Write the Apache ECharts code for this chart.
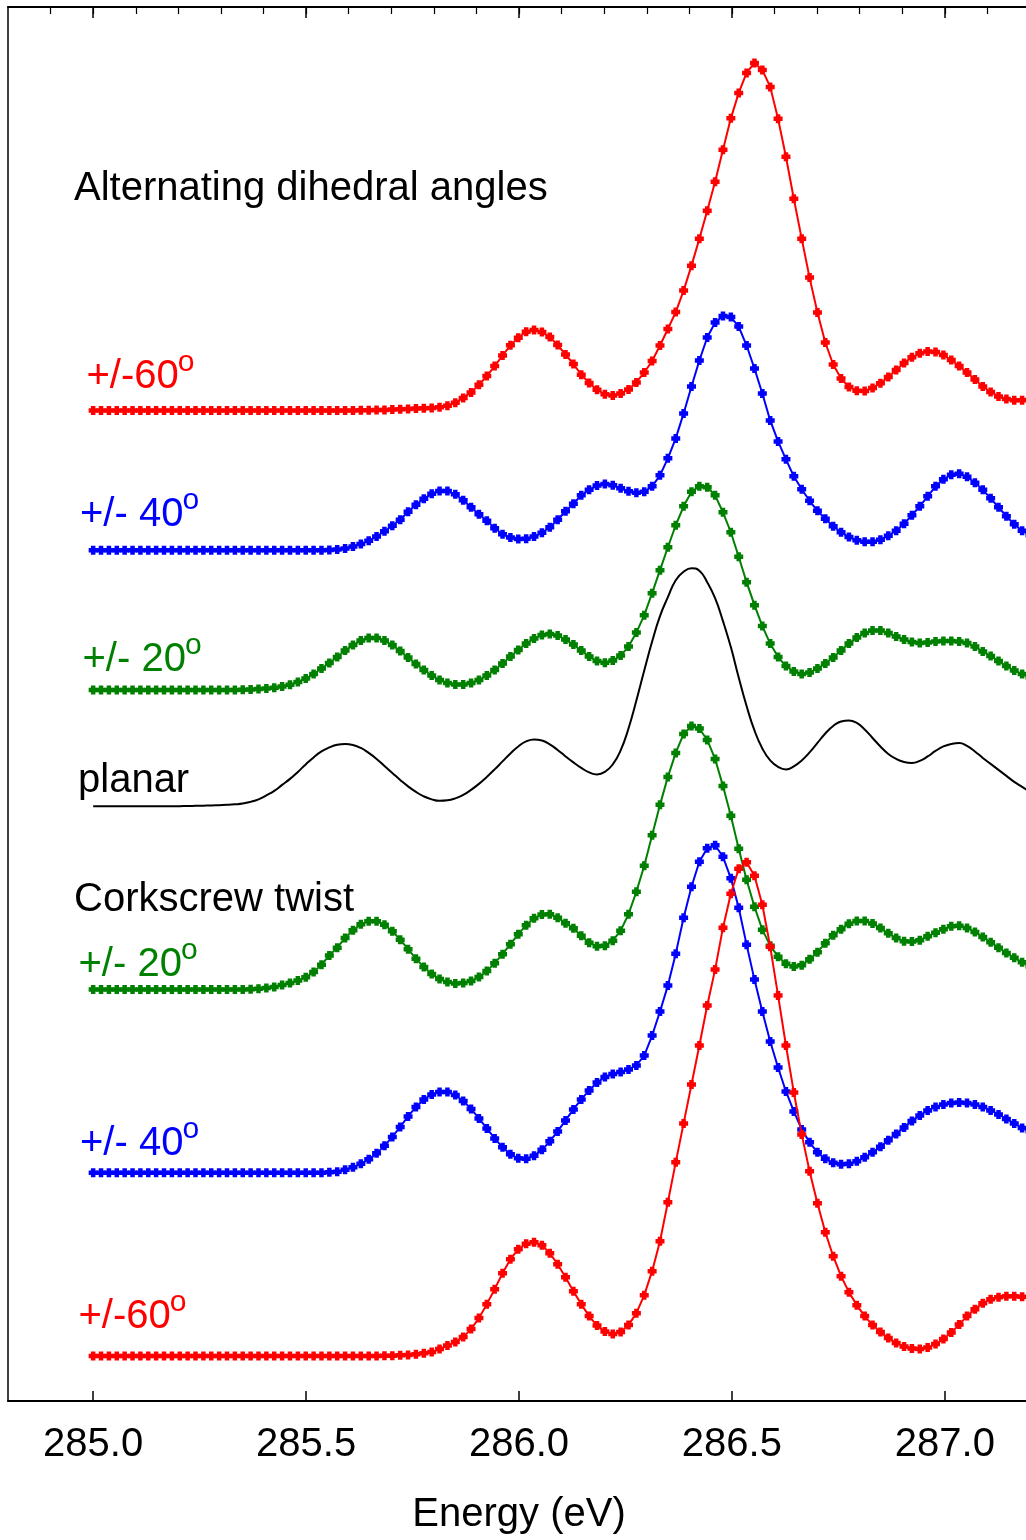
<!DOCTYPE html>
<html>
<head>
<meta charset="utf-8">
<title>C 1s spectra, dihedral angles</title>
<script src="https://cdn.jsdelivr.net/npm/echarts@6/dist/echarts.min.js"></script>
<style>
    html, body { margin: 0; padding: 0; background: #fff; overflow: hidden; }
    #chart { width: 1030px; height: 1540px; }
</style>
</head>
<body>
<div id="chart"></div>
<script>
    // energy grid of the calculated spectra: 120 points, 285.0 .. 287.2 eV
    var eStart = 285.0, eEnd = 287.2, nPts = 120;
    var energy = [];
    for (var i = 0; i < nPts; i++) {
        energy.push(eStart + i * (eEnd - eStart) / (nPts - 1));
    }

    var tickValues = [285.0, 285.5, 286.0, 286.5, 287.0];
    var minorTickValues = [284.9, 285.0, 285.1, 285.2, 285.3, 285.4, 285.5, 285.6, 285.7, 285.8, 285.9,
        286.0, 286.1, 286.2, 286.3, 286.4, 286.5, 286.6, 286.7, 286.8, 286.9, 287.0, 287.1];

    // intensities (arb. units) above each curve's own baseline
    var altRed60 = [
        0, 0, 0, 0, 0, 0, 0, 0, 0, 0,
        0, 0, 0, 0, 0, 0, 0, 0, 0, 0,
        0, 0, 0, 0, 0, 0, 0, 0, 0, 0,
        0, 0, 0, 0, 0.1, 0.2, 0.3, 0.5, 0.8, 1.2,
        1.5, 1.8, 2.1, 2.5, 3.2, 4.7, 7.7, 12.5, 18, 25.7,
        34.4, 44.4, 55, 65.2, 72.8, 78.8, 80.6, 78.5, 73.5, 65.4,
        56, 46.5, 35.8, 27.5, 20.6, 16.3, 15, 17, 21, 28,
        38, 49.5, 65, 81.5, 98.5, 120, 145, 172, 200, 229,
        261, 292.5, 318, 338, 348, 341, 324, 292, 254, 212,
        172, 133, 98, 68, 46, 32, 23.5, 19.8, 19.5, 22.5,
        27.2, 33.5, 40.5, 47.5, 53.2, 57.2, 59, 58.5, 55.5, 50.5,
        44.5, 38, 31, 24, 18.5, 14, 11.4, 10.2, 10.3, 11
    ];
    var altBlue40 = [
        0, 0, 0, 0, 0, 0, 0, 0, 0, 0,
        0, 0, 0, 0, 0, 0, 0, 0, 0, 0,
        0, 0, 0, 0, 0, 0, 0, 0, 0, 0,
        0.2, 0.6, 1.8, 3.7, 6.2, 9.5, 13.7, 19, 24.5, 30.5,
        38.5, 45.5, 51.5, 56.5, 59.2, 59.2, 56, 50, 43, 36,
        29.5, 22, 16, 12.7, 11.3, 11.5, 13.7, 17.5, 23, 30.5,
        39, 46.5, 55, 60.5, 64.7, 66.2, 65, 62, 59, 57.5,
        58.5, 64, 75, 92, 112, 137, 164, 190, 213, 228,
        234.5, 233.5, 224, 205, 182, 157, 130, 109, 91, 74,
        61, 49.5, 39.5, 31.5, 24, 18, 13.2, 10, 8.5, 8.5,
        10.5, 14.5, 19.5, 26.5, 35, 44, 54, 64, 71, 75.5,
        76.5, 73.5, 67.5, 60.5, 52, 43, 34, 26, 19.5, 15
    ];
    var altGreen20 = [
        0, 0, 0, 0, 0, 0, 0, 0, 0, 0,
        0, 0, 0, 0, 0, 0, 0, 0, 0, 0.2,
        0.5, 0.9, 1.4, 2.2, 3.5, 5.2, 8, 11.5, 16, 21.5,
        27, 33, 39.5, 45, 49.5, 52, 52, 49.5, 45, 39,
        32.5, 26, 20, 14.5, 10, 7, 5.5, 5.5, 7, 10,
        14.5, 20, 26.5, 33.5, 40, 46.5, 51.5, 55, 56, 54.5,
        50.5, 45.5, 39.5, 33.5, 29, 27.2, 29.5, 34.5, 43.5, 57.5,
        75, 97, 120, 143, 165, 184, 198.5, 204, 203, 195,
        178, 158, 133.5, 108, 85, 64, 46.5, 33, 24, 18.5,
        16, 17.5, 21.5, 26.5, 32.5, 39.5, 46.5, 52.5, 57, 59.5,
        59.5, 57, 53.5, 50.5, 48, 47, 47.5, 48.5, 49, 49,
        48.5, 47, 43.5, 38.5, 34, 29, 24, 19.5, 16, 12.5
    ];
    var planar = [
        0, 0, 0, 0, 0, 0, 0, 0, 0, 0,
        0, 0.2, 0.3, 0.5, 0.7, 0.9, 1.2, 1.5, 2, 2.8,
        4.5, 7, 11, 15.5, 21.5, 27.5, 34.5, 42, 49, 55,
        59, 61.7, 62.5, 61.5, 58.5, 53.5, 47.5, 40.5, 33.5, 26.5,
        20, 14.5, 10, 7, 5.5, 6, 8, 11.5, 16.5, 22.5,
        29.5, 37, 45, 53, 60, 65, 67, 66, 62, 56.5,
        50, 44, 38.5, 34, 32, 34.5, 42, 56, 78, 106,
        136, 165, 190.5, 209.5, 226.5, 235, 238.5, 236, 224.5, 208.5,
        185.5, 159.5, 129, 100.5, 76, 58, 46, 39.5, 37, 40,
        46, 54, 63.5, 73, 80.5, 85, 86, 83.5, 77, 68.5,
        60, 52.5, 47.5, 44.5, 43.5, 45.5, 50, 55.5, 60, 62.5,
        63.5, 60.5, 55, 48.5, 42.5, 36.5, 30.5, 24.5, 19.5, 14.5
    ];
    var corkGreen20 = [
        0, 0, 0, 0, 0, 0, 0, 0, 0, 0,
        0, 0, 0, 0, 0, 0, 0, 0, 0, 0.2,
        0.4, 0.8, 1.5, 2.7, 4.5, 6.7, 9.2, 12.3, 17.5, 24.8,
        34.2, 42, 51.7, 59.5, 65.5, 68.5, 68.5, 65, 58.5, 50,
        40.5, 31, 22.5, 15.5, 10.5, 7.5, 6.2, 6.5, 8.5, 12.5,
        18.5, 26.5, 35.5, 45.5, 55.5, 64.5, 71.5, 75.2, 75.5, 72,
        66.5, 61.5, 54, 46.8, 43.5, 44, 49, 59, 75.5, 98,
        124, 154.5, 185, 213, 237, 256, 264, 261.5, 250, 231,
        204, 174, 141, 110, 83, 60, 44, 33, 26, 23.2,
        24.5, 30.5, 37.5, 46.5, 54.5, 60.5, 66, 68.7, 68.8, 66.3,
        61.6, 56.3, 51.6, 48.5, 48.2, 49.5, 53.4, 57, 60.5, 63.4,
        64, 61.8, 57.7, 52.6, 47.3, 42, 36.7, 31.8, 27.4, 23
    ];
    var corkBlue40 = [
        0, 0, 0, 0, 0, 0, 0, 0, 0, 0,
        0, 0, 0, 0, 0, 0, 0, 0, 0, 0,
        0, 0, 0, 0, 0, 0, 0, 0, 0, 0,
        0.5, 1.2, 3, 5.5, 9, 13.5, 19.5, 27, 36, 46,
        56.5, 66, 73.5, 78.5, 81, 81, 78, 72, 64, 54.5,
        44.5, 34.5, 25.5, 18.5, 14.5, 14, 17, 23, 31.5, 41.5,
        52.5, 63.5, 73.5, 82.5, 90.5, 96, 99, 101, 103.5, 107.5,
        117.5, 137.5, 161.5, 187.5, 219.5, 255.5, 286.5, 311.5, 325, 328,
        316.5, 295, 265.5, 228.5, 193.5, 161.5, 131.5, 105.5, 81.5, 61.5,
        43.5, 30.5, 20.5, 14, 10, 8.5, 9, 11.5, 15.5, 20.5,
        26, 32.5, 39, 45.5, 52, 57.5, 62.5, 66, 68.5, 70,
        70.5, 70, 68.5, 66, 62.5, 58.5, 54, 49.5, 45, 41.5
    ];
    var corkRed60 = [
        0, 0, 0, 0, 0, 0, 0, 0, 0, 0,
        0, 0, 0, 0, 0, 0, 0, 0, 0, 0,
        0, 0, 0, 0, 0, 0, 0, 0, 0, 0,
        0, 0, 0, 0, 0, 0, 0.1, 0.2, 0.4, 0.7,
        1, 1.7, 2.7, 4, 7, 10.5, 14, 19, 27, 38,
        52, 67, 83, 97, 107, 112.5, 114, 111, 103, 92,
        79, 65, 52, 40, 30.5, 24.5, 22, 24, 31, 43,
        61, 85, 115, 154, 194, 233, 272, 311, 351, 387,
        429, 463, 488, 494.5, 481, 452, 410, 361, 311, 264,
        222, 185, 153, 124, 100, 80, 64, 51, 40, 31,
        24, 18, 13, 9.5, 7.5, 7, 8.5, 12, 17, 23.5,
        31.5, 40, 47, 53, 57, 59, 60, 60, 59.5, 59
    ];

    // vertical offset of each curve in the stack
    var seriesNames = ['alt +/-60', 'alt +/-40', 'alt +/-20', 'planar', 'cork +/-20', 'cork +/-40', 'cork +/-60'];
    var seriesValues = [altRed60, altBlue40, altGreen20, planar, corkGreen20, corkBlue40, corkRed60];
    var seriesOffsets = [992, 852, 712, 595.5, 412, 228.5, 45];
    var seriesColors = ['#ff0000', '#0000ff', '#008000', '#000000', '#008000', '#0000ff', '#ff0000'];

    var FONT = '"Liberation Sans", Arial, Helvetica, sans-serif';
    var plusSymbol = 'path://M2.5,0H7.5V2.5H10V7.5H7.5V10H2.5V7.5H0V2.5H2.5Z';

    var series = seriesValues.map(function (vals, k) {
        var isPlanar = seriesNames[k] === 'planar';
        return {
            name: seriesNames[k],
            type: 'line',
            data: vals.map(function (v, j) { return [energy[j], v + seriesOffsets[k]]; }),
            smooth: isPlanar ? 0.5 : false,
            showSymbol: !isPlanar,
            symbol: plusSymbol,
            symbolSize: 9,
            itemStyle: { color: seriesColors[k] },
            lineStyle: { color: seriesColors[k], width: 2 },
            z: 2 + k
        };
    });

    // text labels next to the curves
    var labels = [
        { text: 'Alternating dihedral angles', sup: '', color: '#000000', x: 74, y: 188.5 },
        { text: '+/-60', sup: 'o', color: '#ff0000', x: 86.5, y: 376.5 },
        { text: '+/- 40', sup: 'o', color: '#0000ff', x: 80, y: 514.5 },
        { text: '+/- 20', sup: 'o', color: '#008000', x: 82.5, y: 659.5 },
        { text: 'planar', sup: '', color: '#000000', x: 78, y: 780.5 },
        { text: 'Corkscrew twist', sup: '', color: '#000000', x: 74, y: 899.5 },
        { text: '+/- 20', sup: 'o', color: '#008000', x: 78.5, y: 964.5 },
        { text: '+/- 40', sup: 'o', color: '#0000ff', x: 80, y: 1143.5 },
        { text: '+/-60', sup: 'o', color: '#ff0000', x: 78.5, y: 1316.5 }
    ];

    var ctx = document.createElement('canvas').getContext('2d');
    ctx.font = '40px ' + FONT;
    var graphics = [];
    labels.forEach(function (lb) {
        graphics.push({
            type: 'text', x: lb.x, y: lb.y, z: 100,
            style: { text: lb.text, fill: lb.color, fontSize: 40, fontFamily: FONT, align: 'left', verticalAlign: 'middle' }
        });
        if (lb.sup) {
            var w = ctx.measureText(lb.text).width;
            graphics.push({
                type: 'text', x: lb.x + w - 1, y: lb.y - 14, z: 100,
                style: { text: lb.sup, fill: lb.color, fontSize: 30, fontFamily: FONT, align: 'left', verticalAlign: 'middle' }
            });
        }
    });

    var chart = echarts.init(document.getElementById('chart'));
    chart.setOption({
        animation: false,
        backgroundColor: '#ffffff',
        grid: { left: 8, right: 0, top: 7, bottom: 137, containLabel: false },
        xAxis: [
            {
                type: 'value', position: 'bottom', min: 284.8, max: 287.2,
                name: 'Energy (eV)', nameLocation: 'middle', nameGap: 94,
                nameTextStyle: { fontSize: 40, fontFamily: FONT, color: '#000' },
                axisLine: { show: true, onZero: false, lineStyle: { color: '#000', width: 2 } },
                axisTick: { show: true, inside: true, length: 10, customValues: tickValues, lineStyle: { color: '#000', width: 1.5 } },
                axisLabel: {
                    customValues: tickValues, margin: 24, fontSize: 40, fontFamily: FONT, color: '#000',
                    formatter: function (v) { return v.toFixed(1); }
                },
                splitLine: { show: false }
            },
            {
                type: 'value', position: 'top', min: 284.8, max: 287.2,
                axisLine: { show: true, onZero: false, lineStyle: { color: '#000', width: 2 } },
                axisTick: { show: true, inside: true, length: 7, customValues: minorTickValues, lineStyle: { color: '#000', width: 1.2 } },
                axisLabel: { show: false },
                splitLine: { show: false }
            },
            {
                type: 'value', position: 'top', min: 284.8, max: 287.2,
                axisLine: { show: false, onZero: false },
                axisTick: { show: true, inside: true, length: 11, customValues: tickValues, lineStyle: { color: '#000', width: 1.5 } },
                axisLabel: { show: false },
                splitLine: { show: false }
            }
        ],
        yAxis: {
            type: 'value', min: 0, max: 1396,
            axisLine: { show: true, onZero: false, lineStyle: { color: '#000', width: 1.5 } },
            axisTick: { show: false },
            axisLabel: { show: false },
            splitLine: { show: false }
        },
        graphic: graphics,
        series: series
    });
</script>
</body>
</html>
